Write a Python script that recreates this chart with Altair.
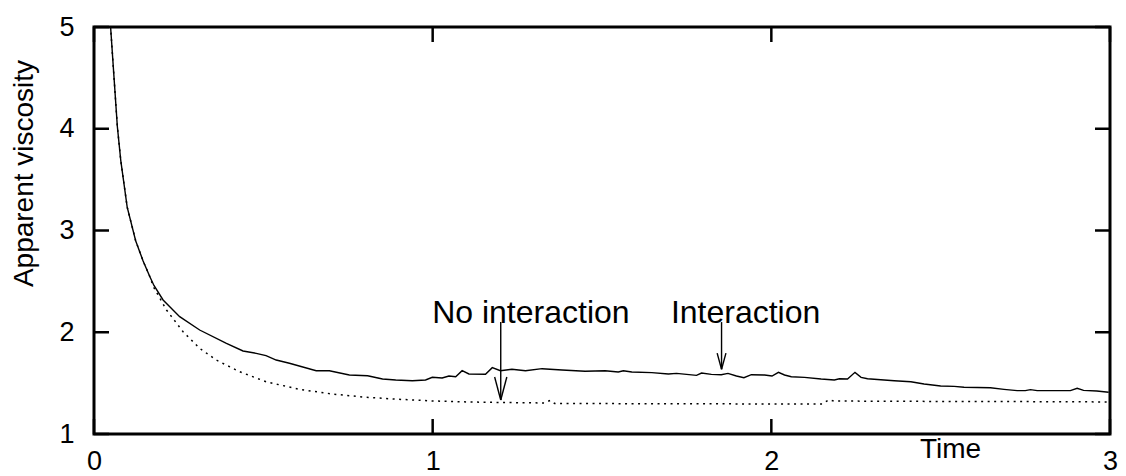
import altair as alt
import pandas as pd

# Interaction (solid) curve
int_t = [0.045, 0.049, 0.059, 0.069, 0.079, 0.098, 0.123, 0.145, 0.165, 0.177, 0.204, 0.253, 0.312,
         0.391, 0.440, 0.479, 0.508, 0.538, 0.577, 0.656, 0.695, 0.754, 0.808, 0.852, 0.891, 0.940,
         0.979, 0.999, 1.028, 1.048, 1.068, 1.087, 1.107, 1.156, 1.176, 1.200, 1.234, 1.274, 1.323,
         1.382, 1.450, 1.509, 1.548, 1.563, 1.588, 1.647, 1.696, 1.720, 1.779, 1.794, 1.823, 1.852,
         1.872, 1.897, 1.919, 1.941, 1.980, 2.002, 2.021, 2.039, 2.059, 2.098, 2.147, 2.186, 2.201,
         2.225, 2.247, 2.265, 2.284, 2.333, 2.363, 2.412, 2.451, 2.500, 2.540, 2.569, 2.647, 2.687,
         2.726, 2.750, 2.765, 2.785, 2.883, 2.903, 2.922, 2.961, 2.996]
int_v = [5.20, 5.00, 4.51, 4.02, 3.69, 3.23, 2.90, 2.70, 2.546, 2.46, 2.317, 2.153, 2.022,
         1.891, 1.816, 1.793, 1.770, 1.727, 1.695, 1.622, 1.622, 1.580, 1.573, 1.541, 1.531, 1.524,
         1.531, 1.557, 1.550, 1.570, 1.563, 1.622, 1.590, 1.587, 1.652, 1.622, 1.636, 1.622, 1.642,
         1.629, 1.616, 1.622, 1.609, 1.622, 1.609, 1.603, 1.589, 1.596, 1.576, 1.599, 1.586, 1.583,
         1.596, 1.570, 1.553, 1.583, 1.580, 1.570, 1.606, 1.580, 1.563, 1.557, 1.540, 1.531, 1.543,
         1.540, 1.606, 1.557, 1.543, 1.531, 1.524, 1.514, 1.491, 1.472, 1.468, 1.459, 1.455, 1.439,
         1.426, 1.426, 1.436, 1.426, 1.426, 1.449, 1.429, 1.423, 1.410]

# No interaction (dotted) curve
noint_t = [0.045, 0.049, 0.059, 0.069, 0.079, 0.098, 0.123, 0.145, 0.165, 0.175, 0.214, 0.263, 0.312,
           0.361, 0.430, 0.508, 0.606, 0.704, 0.803, 0.901, 1.000, 1.100, 1.200, 1.330, 1.347, 1.360,
           1.600, 1.900, 2.150, 2.170, 2.185, 2.500, 2.800, 3.000]
noint_v = [5.20, 5.00, 4.51, 4.02, 3.69, 3.23, 2.90, 2.70, 2.546, 2.45, 2.219, 2.005, 1.842,
           1.727, 1.612, 1.514, 1.439, 1.393, 1.361, 1.341, 1.325, 1.315, 1.310, 1.305, 1.330, 1.300,
           1.298, 1.296, 1.295, 1.337, 1.324, 1.320, 1.318, 1.315]

x_ticks = [0, 1, 2, 3]
y_ticks = [1, 2, 3, 4, 5]

# annotation labels
label_text = ["No interaction", "Interaction"]
label_x = [1.29, 1.924]
label_y = [2.09, 2.09]

# arrow segments (shaft + two head strokes each)
arr_x = [1.201, 1.183, 1.219, 1.853, 1.840, 1.866]
arr_y = [2.10, 1.560, 1.560, 2.10, 1.795, 1.795]
arr_x2 = [1.201, 1.201, 1.201, 1.853, 1.853, 1.853]
arr_y2 = [1.334, 1.334, 1.334, 1.636, 1.636, 1.636]

W, H = 1016, 407
FONT = "Liberation Sans"

curves = pd.DataFrame(
    {"t": int_t + noint_t,
     "v": int_v + noint_v,
     "s": ["Interaction"] * len(int_t) + ["No interaction"] * len(noint_t)}
)
labels = pd.DataFrame({"text": label_text, "x": label_x, "y": label_y})
arrows = pd.DataFrame({"x": arr_x, "y": arr_y, "x2": arr_x2, "y2": arr_y2})
xt = pd.DataFrame({"x": x_ticks})
yt = pd.DataFrame({"y": y_ticks})

xscale = alt.Scale(domain=[0, 3], nice=False, zero=False)
yscale = alt.Scale(domain=[1, 5], nice=False, zero=False)

xaxis = alt.Axis(values=x_ticks, format="d", ticks=False, tickSize=0, domain=False, grid=False,
                 labelFontSize=27, labelFont=FONT, labelColor="black", labelPadding=14,
                 labelFlush=False, labelOffset=0, labelOverlap=False,
                 title="Time", titleFontSize=28, titleFont=FONT, titleFontWeight="normal",
                 titleColor="black", titleX=856, titleY=1, titleAlign="center",
                 titleBaseline="top")
yaxis = alt.Axis(values=y_ticks, format="d", ticks=False, tickSize=0, domain=False, grid=False,
                 labelFontSize=27, labelFont=FONT, labelColor="black", labelPadding=20,
                 labelFlush=False, labelOverlap=False,
                 title="Apparent viscosity", titleFontSize=28, titleFont=FONT,
                 titleFontWeight="normal", titleColor="black", titleX=-70, titleY=146,
                 titleAngle=270, titleAlign="center", titleBaseline="middle")

solid = alt.Chart(curves).transform_filter(alt.datum.s == "Interaction").mark_line(
    color="black", strokeWidth=1.4, clip=True
).encode(
    x=alt.X("t:Q", scale=xscale, axis=xaxis),
    y=alt.Y("v:Q", scale=yscale, axis=yaxis),
    order="t:Q",
)

dotted = alt.Chart(curves).transform_filter(alt.datum.s == "No interaction").mark_line(
    color="black", strokeWidth=1.5, strokeDash=[2, 4.5], clip=True
).encode(
    x=alt.X("t:Q", scale=xscale),
    y=alt.Y("v:Q", scale=yscale),
    order="t:Q",
)

text = alt.Chart(labels).mark_text(
    font=FONT, fontSize=32, color="black", align="center", baseline="alphabetic"
).encode(x=alt.X("x:Q", scale=xscale), y=alt.Y("y:Q", scale=yscale), text="text:N")

arrow = alt.Chart(arrows).mark_rule(color="black", strokeWidth=1.4).encode(
    x=alt.X("x:Q", scale=xscale), y=alt.Y("y:Q", scale=yscale), x2="x2:Q", y2="y2:Q"
)

bot_ticks = alt.Chart(xt).mark_rule(color="black", strokeWidth=2.5).encode(
    x=alt.X("x:Q", scale=xscale), y=alt.value(H), y2=alt.value(H - 15)
)
top_ticks = alt.Chart(xt).mark_rule(color="black", strokeWidth=2.5).encode(
    x=alt.X("x:Q", scale=xscale), y=alt.value(0), y2=alt.value(15)
)
left_ticks = alt.Chart(yt).mark_rule(color="black", strokeWidth=2.5).encode(
    y=alt.Y("y:Q", scale=yscale), x=alt.value(0), x2=alt.value(15)
)
right_ticks = alt.Chart(yt).mark_rule(color="black", strokeWidth=2.5).encode(
    y=alt.Y("y:Q", scale=yscale), x=alt.value(W), x2=alt.value(W - 15)
)

chart = alt.layer(
    solid, dotted, text, arrow, bot_ticks, top_ticks, left_ticks, right_ticks
).properties(
    width=W, height=H,
    autosize=alt.AutoSizeParams(type="none"),
    padding={"left": 86, "top": 19, "right": 8, "bottom": 40},
    background="white",
).configure_view(stroke="black", strokeWidth=3)

chart.save("out.html", embed_options={"renderer": "svg", "actions": False})
